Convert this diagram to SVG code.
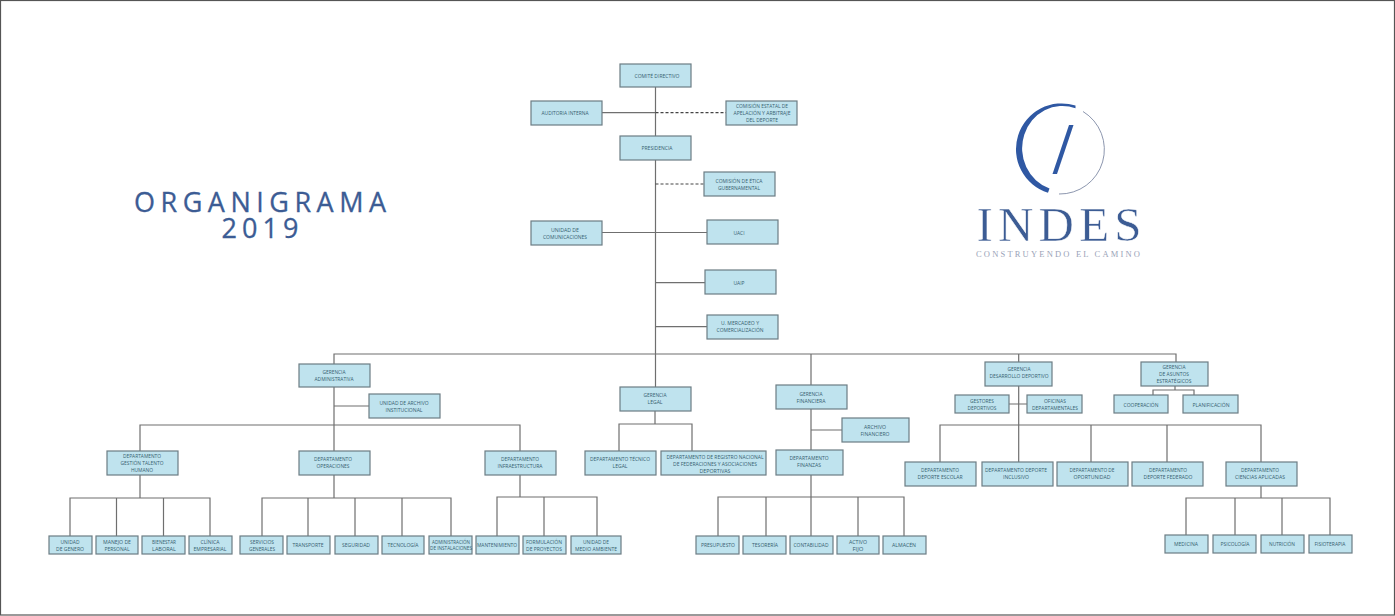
<svg xmlns="http://www.w3.org/2000/svg" width="1395" height="616" viewBox="0 0 1395 616">
<style>
.n rect{fill:#bfe3ee;stroke:#6c7c84;stroke-width:1.2}
.n text{font-family:"Open Sans","Liberation Sans",sans-serif;font-size:6px;fill:#36606f;text-anchor:middle}
.c path{fill:none;stroke:#6f6f6f;stroke-width:1.2}
.c .d{stroke:#444;stroke-dasharray:3 2;stroke-width:1.2}
.t{font-family:"Open Sans","Liberation Sans",sans-serif;fill:#3c5c94;stroke:#3c5c94;stroke-width:.3;text-anchor:middle;font-size:27px}
</style>
<rect width="1395" height="616" fill="#fff"/>
<rect x="0.5" y="0.5" width="1394" height="614.5" fill="none" stroke="#555" stroke-width="1.2"/>
<g id="titulo"><text class="t" x="260" y="212" textLength="252" lengthAdjust="spacing">ORGANIGRAMA</text><text class="t" x="260" y="238" textLength="77" lengthAdjust="spacing">2019</text></g>
<g id="logo">
<path d="M1075.500 105.500A45 45 0 0 0 1048 192.800L1049.500 188.500A40 42 0 0 1 1075.500 108.200Z" fill="#2f58a3"/>
<path d="M1083 111.500A44.500 44.500 0 0 1 1059 194" fill="none" stroke="#7f8aa5" stroke-width="0.9"/>
<polygon points="1069,125 1073.500,125 1057,174 1052.500,174" fill="#2f58a3"/>
<text x="1059" y="241" font-family="Liberation Serif,serif" font-size="49" fill="#3c5c94" stroke="#fff" stroke-width="0.5" text-anchor="middle" textLength="165" lengthAdjust="spacing">INDES</text>
<text x="1058" y="256.500" font-family="Liberation Serif,serif" font-size="8.500" fill="#9aa3b8" text-anchor="middle" textLength="164" lengthAdjust="spacing">CONSTRUYENDO EL CAMINO</text>
</g>
<g class="c" id="conectores">
<path d="M655.500 87V354"/>
<path d="M602 112.700H655.500"/><path class="d" d="M655.500 112.700H726"/>
<path class="d" d="M655.500 184H704"/>
<path d="M602 232.500H707M655.500 282.700H705M655.500 326.700H707"/>
<path d="M334 364V354H1176V362M655.500 354V387M811 354V385M1018.700 354V362"/>
<path d="M334 387V451M334 406H369M140 451V425H520V451"/>
<path d="M70 536V498H210V536M116.500 498V536M163.500 498V536M140 475V498"/>
<path d="M262 536V498H451V536M308 498V536M355 498V536M402 498V536M334 475V498"/>
<path d="M497 536V497H597V536M544 497V536M520 475V497"/>
<path d="M655 411V424M619 451V424H692V451"/>
<path d="M811 409V450M811 430H842M811 475V497M718 536V497H904V536M766 497V536M811 497V536M858 497V536"/>
<path d="M1018.700 386V462M1009 404H1027M940 462V425H1261V462M1091 425V462M1167 425V462"/>
<path d="M1175 386V390M1153 395V390H1194V395"/>
<path d="M1261 486V498M1186 535V498H1330V535M1235 498V535M1282 498V535"/>
</g>
<g class="n" id="n1"><rect x="620" y="64" width="71" height="23"/><text x="657" y="78" textLength="45" lengthAdjust="spacingAndGlyphs">COMITÉ DIRECTIVO</text></g>
<g class="n" id="n2"><rect x="531" y="101" width="71" height="24"/><text x="565" y="115" textLength="47" lengthAdjust="spacingAndGlyphs">AUDITORIA INTERNA</text></g>
<g class="n" id="n3"><rect x="726" y="101" width="71" height="24"/><text x="762" y="108" textLength="52" lengthAdjust="spacingAndGlyphs">COMISIÓN ESTATAL DE</text><text x="762" y="115" textLength="57" lengthAdjust="spacingAndGlyphs">APELACIÓN Y ARBITRAJE</text><text x="762" y="122" textLength="32" lengthAdjust="spacingAndGlyphs">DEL DEPORTE</text></g>
<g class="n" id="n4"><rect x="620" y="136" width="71" height="24"/><text x="657" y="150" textLength="31" lengthAdjust="spacingAndGlyphs">PRESIDENCIA</text></g>
<g class="n" id="n5"><rect x="704" y="172" width="71" height="24"/><text x="739" y="182.500" textLength="47" lengthAdjust="spacingAndGlyphs">COMISIÓN DE ÉTICA</text><text x="739" y="189.500" textLength="42" lengthAdjust="spacingAndGlyphs">GUBERNAMENTAL</text></g>
<g class="n" id="n6"><rect x="531" y="221" width="71" height="24"/><text x="565" y="232" textLength="28" lengthAdjust="spacingAndGlyphs">UNIDAD DE</text><text x="565" y="239" textLength="44" lengthAdjust="spacingAndGlyphs">COMUNICACIONES</text></g>
<g class="n" id="n7"><rect x="707" y="220" width="71" height="24"/><text x="739" y="235" textLength="11" lengthAdjust="spacingAndGlyphs">UACI</text></g>
<g class="n" id="n8"><rect x="705" y="270" width="71" height="24"/><text x="739" y="285" textLength="11" lengthAdjust="spacingAndGlyphs">UAIP</text></g>
<g class="n" id="n9"><rect x="707" y="315" width="71" height="24"/><text x="740" y="325" textLength="38" lengthAdjust="spacingAndGlyphs">U. MERCADEO Y</text><text x="740" y="332" textLength="47" lengthAdjust="spacingAndGlyphs">COMERCIALIZACIÓN</text></g>
<g class="n" id="n10"><rect x="299" y="364" width="71" height="23"/><text x="334" y="374" textLength="23" lengthAdjust="spacingAndGlyphs">GERENCIA</text><text x="334" y="381" textLength="39" lengthAdjust="spacingAndGlyphs">ADMINISTRATIVA</text></g>
<g class="n" id="n11"><rect x="369" y="394" width="71" height="24"/><text x="404" y="405" textLength="49" lengthAdjust="spacingAndGlyphs">UNIDAD DE ARCHIVO</text><text x="404" y="412" textLength="37" lengthAdjust="spacingAndGlyphs">INSTITUCIONAL</text></g>
<g class="n" id="n12"><rect x="107" y="451" width="71" height="24"/><text x="142" y="458" textLength="38" lengthAdjust="spacingAndGlyphs">DEPARTAMENTO</text><text x="142" y="465" textLength="43" lengthAdjust="spacingAndGlyphs">GESTIÓN TALENTO</text><text x="142" y="472" textLength="22" lengthAdjust="spacingAndGlyphs">HUMANO</text></g>
<g class="n" id="n13"><rect x="299" y="451" width="71" height="24"/><text x="333" y="461" textLength="38" lengthAdjust="spacingAndGlyphs">DEPARTAMENTO</text><text x="333" y="468" textLength="33" lengthAdjust="spacingAndGlyphs">OPERACIONES</text></g>
<g class="n" id="n14"><rect x="485" y="451" width="71" height="24"/><text x="520" y="461" textLength="38" lengthAdjust="spacingAndGlyphs">DEPARTAMENTO</text><text x="520" y="468" textLength="45" lengthAdjust="spacingAndGlyphs">INFRAESTRUCTURA</text></g>
<g class="n" id="n15"><rect x="49" y="536" width="43" height="18"/><text x="70" y="544" textLength="19" lengthAdjust="spacingAndGlyphs">UNIDAD</text><text x="70" y="551" textLength="28" lengthAdjust="spacingAndGlyphs">DE GENERO</text></g>
<g class="n" id="n16"><rect x="96" y="536" width="42" height="18"/><text x="117" y="544" textLength="28" lengthAdjust="spacingAndGlyphs">MANEJO DE</text><text x="117" y="551" textLength="25" lengthAdjust="spacingAndGlyphs">PERSONAL</text></g>
<g class="n" id="n17"><rect x="142" y="536" width="43" height="18"/><text x="164" y="544" textLength="24" lengthAdjust="spacingAndGlyphs">BIENESTAR</text><text x="164" y="551" textLength="24" lengthAdjust="spacingAndGlyphs">LABORAL</text></g>
<g class="n" id="n18"><rect x="189" y="536" width="43" height="18"/><text x="210" y="544" textLength="19" lengthAdjust="spacingAndGlyphs">CLÍNICA</text><text x="210" y="551" textLength="33" lengthAdjust="spacingAndGlyphs">EMPRESARIAL</text></g>
<g class="n" id="n19"><rect x="240" y="536" width="43" height="18"/><text x="262" y="544" textLength="24" lengthAdjust="spacingAndGlyphs">SERVICIOS</text><text x="262" y="551" textLength="26" lengthAdjust="spacingAndGlyphs">GENERALES</text></g>
<g class="n" id="n20"><rect x="287" y="536" width="43" height="18"/><text x="308" y="547" textLength="31" lengthAdjust="spacingAndGlyphs">TRANSPORTE</text></g>
<g class="n" id="n21"><rect x="335" y="536" width="43" height="18"/><text x="356" y="547" textLength="28" lengthAdjust="spacingAndGlyphs">SEGURIDAD</text></g>
<g class="n" id="n22"><rect x="382" y="536" width="42" height="18"/><text x="403" y="547" textLength="31" lengthAdjust="spacingAndGlyphs">TECNOLOGÍA</text></g>
<g class="n" id="n23"><rect x="429" y="536" width="43" height="18"/><text x="451" y="543.500" style="font-size:4.500px" textLength="38" lengthAdjust="spacingAndGlyphs">ADMINISTRACIÓN</text><text x="451" y="550" style="font-size:4.500px" textLength="42" lengthAdjust="spacingAndGlyphs">DE INSTALACIONES</text></g>
<g class="n" id="n24"><rect x="476" y="536" width="43" height="18"/><text x="497" y="547" textLength="40" lengthAdjust="spacingAndGlyphs">MANTENIMIENTO</text></g>
<g class="n" id="n25"><rect x="523" y="536" width="43" height="18"/><text x="544" y="544" textLength="36" lengthAdjust="spacingAndGlyphs">FORMULACIÓN</text><text x="544" y="551" textLength="36" lengthAdjust="spacingAndGlyphs">DE PROYECTOS</text></g>
<g class="n" id="n26"><rect x="571" y="536" width="50" height="18"/><text x="596" y="544" textLength="26" lengthAdjust="spacingAndGlyphs">UNIDAD DE</text><text x="596" y="551" textLength="42" lengthAdjust="spacingAndGlyphs">MEDIO AMBIENTE</text></g>
<g class="n" id="n27"><rect x="620" y="387" width="71" height="24"/><text x="655" y="397" textLength="23" lengthAdjust="spacingAndGlyphs">GERENCIA</text><text x="655" y="404" textLength="15" lengthAdjust="spacingAndGlyphs">LEGAL</text></g>
<g class="n" id="n28"><rect x="585" y="451" width="71" height="24"/><text x="620" y="461" textLength="60" lengthAdjust="spacingAndGlyphs">DEPARTAMENTO TÉCNICO</text><text x="620" y="468" textLength="15" lengthAdjust="spacingAndGlyphs">LEGAL</text></g>
<g class="n" id="n29"><rect x="661" y="451" width="105" height="24"/><text x="715" y="459" textLength="97" lengthAdjust="spacingAndGlyphs">DEPARTAMENTO DE REGISTRO NACIONAL</text><text x="715" y="466" textLength="84" lengthAdjust="spacingAndGlyphs">DE FEDERACIONES Y ASOCIACIONES</text><text x="715" y="473" textLength="31" lengthAdjust="spacingAndGlyphs">DEPORTIVAS</text></g>
<g class="n" id="n30"><rect x="776" y="385" width="71" height="24"/><text x="811" y="396" textLength="23" lengthAdjust="spacingAndGlyphs">GERENCIA</text><text x="811" y="403" textLength="29" lengthAdjust="spacingAndGlyphs">FINANCIERA</text></g>
<g class="n" id="n31"><rect x="842" y="418" width="67" height="24"/><text x="875" y="428.500" textLength="22" lengthAdjust="spacingAndGlyphs">ARCHIVO</text><text x="875" y="435.500" textLength="29" lengthAdjust="spacingAndGlyphs">FINANCIERO</text></g>
<g class="n" id="n32"><rect x="776" y="450" width="67" height="25"/><text x="809" y="460" textLength="39" lengthAdjust="spacingAndGlyphs">DEPARTAMENTO</text><text x="809" y="467" textLength="24" lengthAdjust="spacingAndGlyphs">FINANZAS</text></g>
<g class="n" id="n33"><rect x="696" y="536" width="43" height="18"/><text x="718" y="547" textLength="34" lengthAdjust="spacingAndGlyphs">PRESUPUESTO</text></g>
<g class="n" id="n34"><rect x="743" y="536" width="43" height="18"/><text x="765" y="547" textLength="26" lengthAdjust="spacingAndGlyphs">TESORERÍA</text></g>
<g class="n" id="n35"><rect x="790" y="536" width="43" height="18"/><text x="811" y="547" textLength="35" lengthAdjust="spacingAndGlyphs">CONTABILIDAD</text></g>
<g class="n" id="n36"><rect x="837" y="536" width="42" height="18"/><text x="858" y="543.500" textLength="18" lengthAdjust="spacingAndGlyphs">ACTIVO</text><text x="858" y="551" textLength="11" lengthAdjust="spacingAndGlyphs">FIJO</text></g>
<g class="n" id="n37"><rect x="883" y="536" width="43" height="18"/><text x="904" y="547" textLength="24" lengthAdjust="spacingAndGlyphs">ALMACÉN</text></g>
<g class="n" id="n38"><rect x="985" y="362" width="67" height="24"/><text x="1019" y="371" textLength="23" lengthAdjust="spacingAndGlyphs">GERENCIA</text><text x="1019" y="378" textLength="59" lengthAdjust="spacingAndGlyphs">DESARROLLO DEPORTIVO</text></g>
<g class="n" id="n39"><rect x="1141" y="362" width="67" height="24"/><text x="1174" y="369" textLength="23" lengthAdjust="spacingAndGlyphs">GERENCIA</text><text x="1174" y="376" textLength="30" lengthAdjust="spacingAndGlyphs">DE ASUNTOS</text><text x="1174" y="383" textLength="35" lengthAdjust="spacingAndGlyphs">ESTRATÉGICOS</text></g>
<g class="n" id="n40"><rect x="955" y="395" width="54" height="18"/><text x="982" y="402.500" textLength="24" lengthAdjust="spacingAndGlyphs">GESTORES</text><text x="982" y="409.500" textLength="29" lengthAdjust="spacingAndGlyphs">DEPORTIVOS</text></g>
<g class="n" id="n41"><rect x="1027" y="395" width="55" height="18"/><text x="1055" y="402.500" textLength="22" lengthAdjust="spacingAndGlyphs">OFICINAS</text><text x="1055" y="409.500" textLength="46" lengthAdjust="spacingAndGlyphs">DEPARTAMENTALES</text></g>
<g class="n" id="n42"><rect x="1114" y="395" width="54" height="18"/><text x="1141" y="407" textLength="35" lengthAdjust="spacingAndGlyphs">COOPERACIÓN</text></g>
<g class="n" id="n43"><rect x="1183" y="395" width="55" height="18"/><text x="1211" y="407" textLength="37" lengthAdjust="spacingAndGlyphs">PLANIFICACIÓN</text></g>
<g class="n" id="n44"><rect x="905" y="462" width="71" height="24"/><text x="940" y="472" textLength="38" lengthAdjust="spacingAndGlyphs">DEPARTAMENTO</text><text x="940" y="479" textLength="45" lengthAdjust="spacingAndGlyphs">DEPORTE ESCOLAR</text></g>
<g class="n" id="n45"><rect x="982" y="462" width="71" height="24"/><text x="1016" y="472" textLength="62" lengthAdjust="spacingAndGlyphs">DEPARTAMENTO DEPORTE</text><text x="1016" y="479" textLength="26" lengthAdjust="spacingAndGlyphs">INCLUSIVO</text></g>
<g class="n" id="n46"><rect x="1057" y="462" width="71" height="24"/><text x="1092" y="472" textLength="45" lengthAdjust="spacingAndGlyphs">DEPARTAMENTO DE</text><text x="1092" y="479" textLength="37" lengthAdjust="spacingAndGlyphs">OPORTUNIDAD</text></g>
<g class="n" id="n47"><rect x="1132" y="462" width="71" height="24"/><text x="1168" y="472" textLength="38" lengthAdjust="spacingAndGlyphs">DEPARTAMENTO</text><text x="1168" y="479" textLength="49" lengthAdjust="spacingAndGlyphs">DEPORTE FEDERADO</text></g>
<g class="n" id="n48"><rect x="1226" y="462" width="71" height="24"/><text x="1260" y="472" textLength="38" lengthAdjust="spacingAndGlyphs">DEPARTAMENTO</text><text x="1260" y="479" textLength="50" lengthAdjust="spacingAndGlyphs">CIENCIAS APLICADAS</text></g>
<g class="n" id="n49"><rect x="1165" y="535" width="43" height="18"/><text x="1186" y="546" textLength="24" lengthAdjust="spacingAndGlyphs">MEDICINA</text></g>
<g class="n" id="n50"><rect x="1213" y="535" width="43" height="18"/><text x="1235" y="546" textLength="29" lengthAdjust="spacingAndGlyphs">PSICOLOGÍA</text></g>
<g class="n" id="n51"><rect x="1261" y="535" width="43" height="18"/><text x="1282" y="546" textLength="26" lengthAdjust="spacingAndGlyphs">NUTRICIÓN</text></g>
<g class="n" id="n52"><rect x="1309" y="535" width="43" height="18"/><text x="1330" y="546" textLength="31" lengthAdjust="spacingAndGlyphs">FISIOTERAPIA</text></g>
</svg>
